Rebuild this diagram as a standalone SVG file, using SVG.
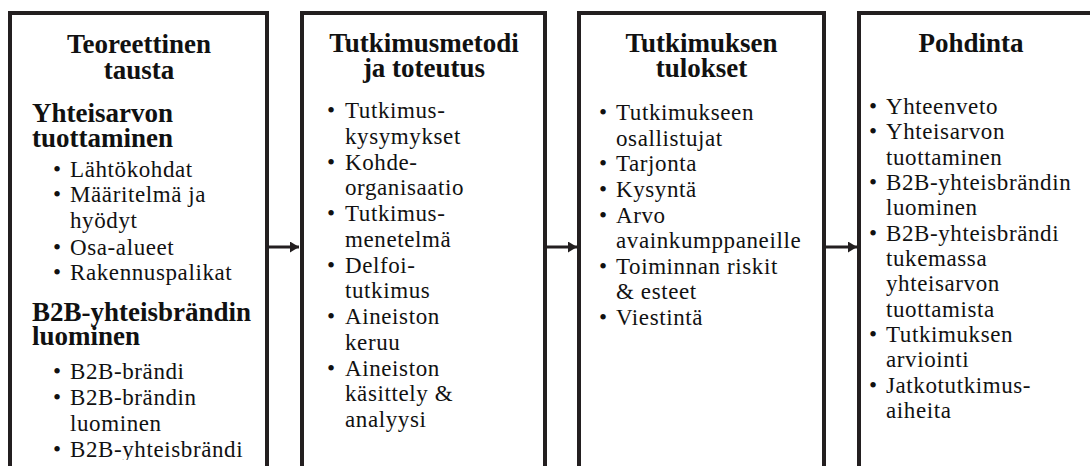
<svg xmlns="http://www.w3.org/2000/svg" width="1090" height="466" viewBox="0 0 1090 466">
<style>
.box{fill:#fff;stroke:#231f20;stroke-width:4}
.t{font-family:"Liberation Serif","Times New Roman",serif;font-weight:bold;font-size:27px;fill:#111;text-anchor:middle}
.h{font-family:"Liberation Serif","Times New Roman",serif;font-weight:bold;font-size:27px;fill:#111}
.b{font-family:"Liberation Serif","Times New Roman",serif;font-size:23px;letter-spacing:0.6px;fill:#111}
.d{font-family:"Liberation Serif","Times New Roman",serif;font-size:23px;fill:#111;text-anchor:middle}
.c{stroke:#231f20;stroke-width:3;fill:none}
</style>
<defs>
<marker id="ah" markerUnits="userSpaceOnUse" markerWidth="9" markerHeight="11" refX="9" refY="5.5" orient="auto">
<path d="M0,0 L9,5.5 L0,11 z" fill="#231f20"/>
</marker>
<clipPath id="cut"><rect x="0" y="0" width="1090" height="460"/></clipPath>
</defs>

<g id="node-teoreettinen">
<rect class="box" x="10" y="13" width="257" height="470"/>
<text class="t" x="139" y="53">Teoreettinen</text>
<text class="t" x="139" y="79">tausta</text>
<text class="h" x="32" y="122">Yhteisarvon</text>
<text class="h" x="32" y="147">tuottaminen</text>
<text class="d" x="57" y="177">•</text><text class="b" x="70" y="177">Lähtökohdat</text>
<text class="d" x="57" y="202">•</text><text class="b" x="70" y="202">Määritelmä ja</text>
<text class="b" x="70" y="228">hyödyt</text>
<text class="d" x="57" y="255">•</text><text class="b" x="70" y="255">Osa-alueet</text>
<text class="d" x="57" y="280">•</text><text class="b" x="70" y="280">Rakennuspalikat</text>
<text class="h" x="32" y="321">B2B-yhteisbrändin</text>
<text class="h" x="32" y="345">luominen</text>
<text class="d" x="57" y="379">•</text><text class="b" x="70" y="379">B2B-brändi</text>
<text class="d" x="57" y="405">•</text><text class="b" x="70" y="405">B2B-brändin</text>
<text class="b" x="70" y="431">luominen</text>
<g clip-path="url(#cut)">
<text class="d" x="57" y="457">•</text><text class="b" x="70" y="457">B2B-yhteisbrändi</text>
</g>
</g>

<g id="node-tutkimusmetodi">
<rect class="box" x="302" y="13" width="243" height="470"/>
<text class="t" x="424" y="52">Tutkimusmetodi</text>
<text class="t" x="424" y="77">ja toteutus</text>
<text class="d" x="331" y="118">•</text><text class="b" x="345" y="118">Tutkimus-</text>
<text class="b" x="345" y="144">kysymykset</text>
<text class="d" x="331" y="169.5">•</text><text class="b" x="345" y="169.5">Kohde-</text>
<text class="b" x="345" y="195">organisaatio</text>
<text class="d" x="331" y="221">•</text><text class="b" x="345" y="221">Tutkimus-</text>
<text class="b" x="345" y="247">menetelmä</text>
<text class="d" x="331" y="272.5">•</text><text class="b" x="345" y="272.5">Delfoi-</text>
<text class="b" x="345" y="298">tutkimus</text>
<text class="d" x="331" y="324">•</text><text class="b" x="345" y="324">Aineiston</text>
<text class="b" x="345" y="350">keruu</text>
<text class="d" x="331" y="375.5">•</text><text class="b" x="345" y="375.5">Aineiston</text>
<text class="b" x="345" y="401">käsittely &amp;</text>
<text class="b" x="345" y="427">analyysi</text>
</g>

<g id="node-tulokset">
<rect class="box" x="579" y="13" width="245" height="470"/>
<text class="t" x="701.5" y="52">Tutkimuksen</text>
<text class="t" x="701.5" y="77">tulokset</text>
<text class="d" x="603" y="120">•</text><text class="b" x="616" y="120">Tutkimukseen</text>
<text class="b" x="616" y="145.5">osallistujat</text>
<text class="d" x="603" y="171">•</text><text class="b" x="616" y="171">Tarjonta</text>
<text class="d" x="603" y="197">•</text><text class="b" x="616" y="197">Kysyntä</text>
<text class="d" x="603" y="222.5">•</text><text class="b" x="616" y="222.5">Arvo</text>
<text class="b" x="616" y="248">avainkumppaneille</text>
<text class="d" x="603" y="273.5">•</text><text class="b" x="616" y="273.5">Toiminnan riskit</text>
<text class="b" x="616" y="299">&amp; esteet</text>
<text class="d" x="603" y="325">•</text><text class="b" x="616" y="325">Viestintä</text>
</g>

<g id="node-pohdinta">
<rect class="box" x="859" y="13" width="240" height="470"/>
<text class="t" x="971" y="52">Pohdinta</text>
<text class="d" x="873" y="114">•</text><text class="b" x="886" y="114">Yhteenveto</text>
<text class="d" x="873" y="139">•</text><text class="b" x="886" y="139">Yhteisarvon</text>
<text class="b" x="886" y="164.5">tuottaminen</text>
<text class="d" x="873" y="190">•</text><text class="b" x="886" y="190">B2B-yhteisbrändin</text>
<text class="b" x="886" y="215">luominen</text>
<text class="d" x="873" y="240.5">•</text><text class="b" x="886" y="240.5">B2B-yhteisbrändi</text>
<text class="b" x="886" y="266">tukemassa</text>
<text class="b" x="886" y="291">yhteisarvon</text>
<text class="b" x="886" y="316.5">tuottamista</text>
<text class="d" x="873" y="342">•</text><text class="b" x="886" y="342">Tutkimuksen</text>
<text class="b" x="886" y="367">arviointi</text>
<text class="d" x="873" y="392.5">•</text><text class="b" x="886" y="392.5">Jatkotutkimus-</text>
<text class="b" x="886" y="418">aiheita</text>
</g>

<g id="connectors">
<line class="c" x1="269" y1="247" x2="299" y2="247" marker-end="url(#ah)"/>
<line class="c" x1="547" y1="247" x2="577" y2="247" marker-end="url(#ah)"/>
<line class="c" x1="826" y1="247" x2="857" y2="247" marker-end="url(#ah)"/>
</g>
</svg>
